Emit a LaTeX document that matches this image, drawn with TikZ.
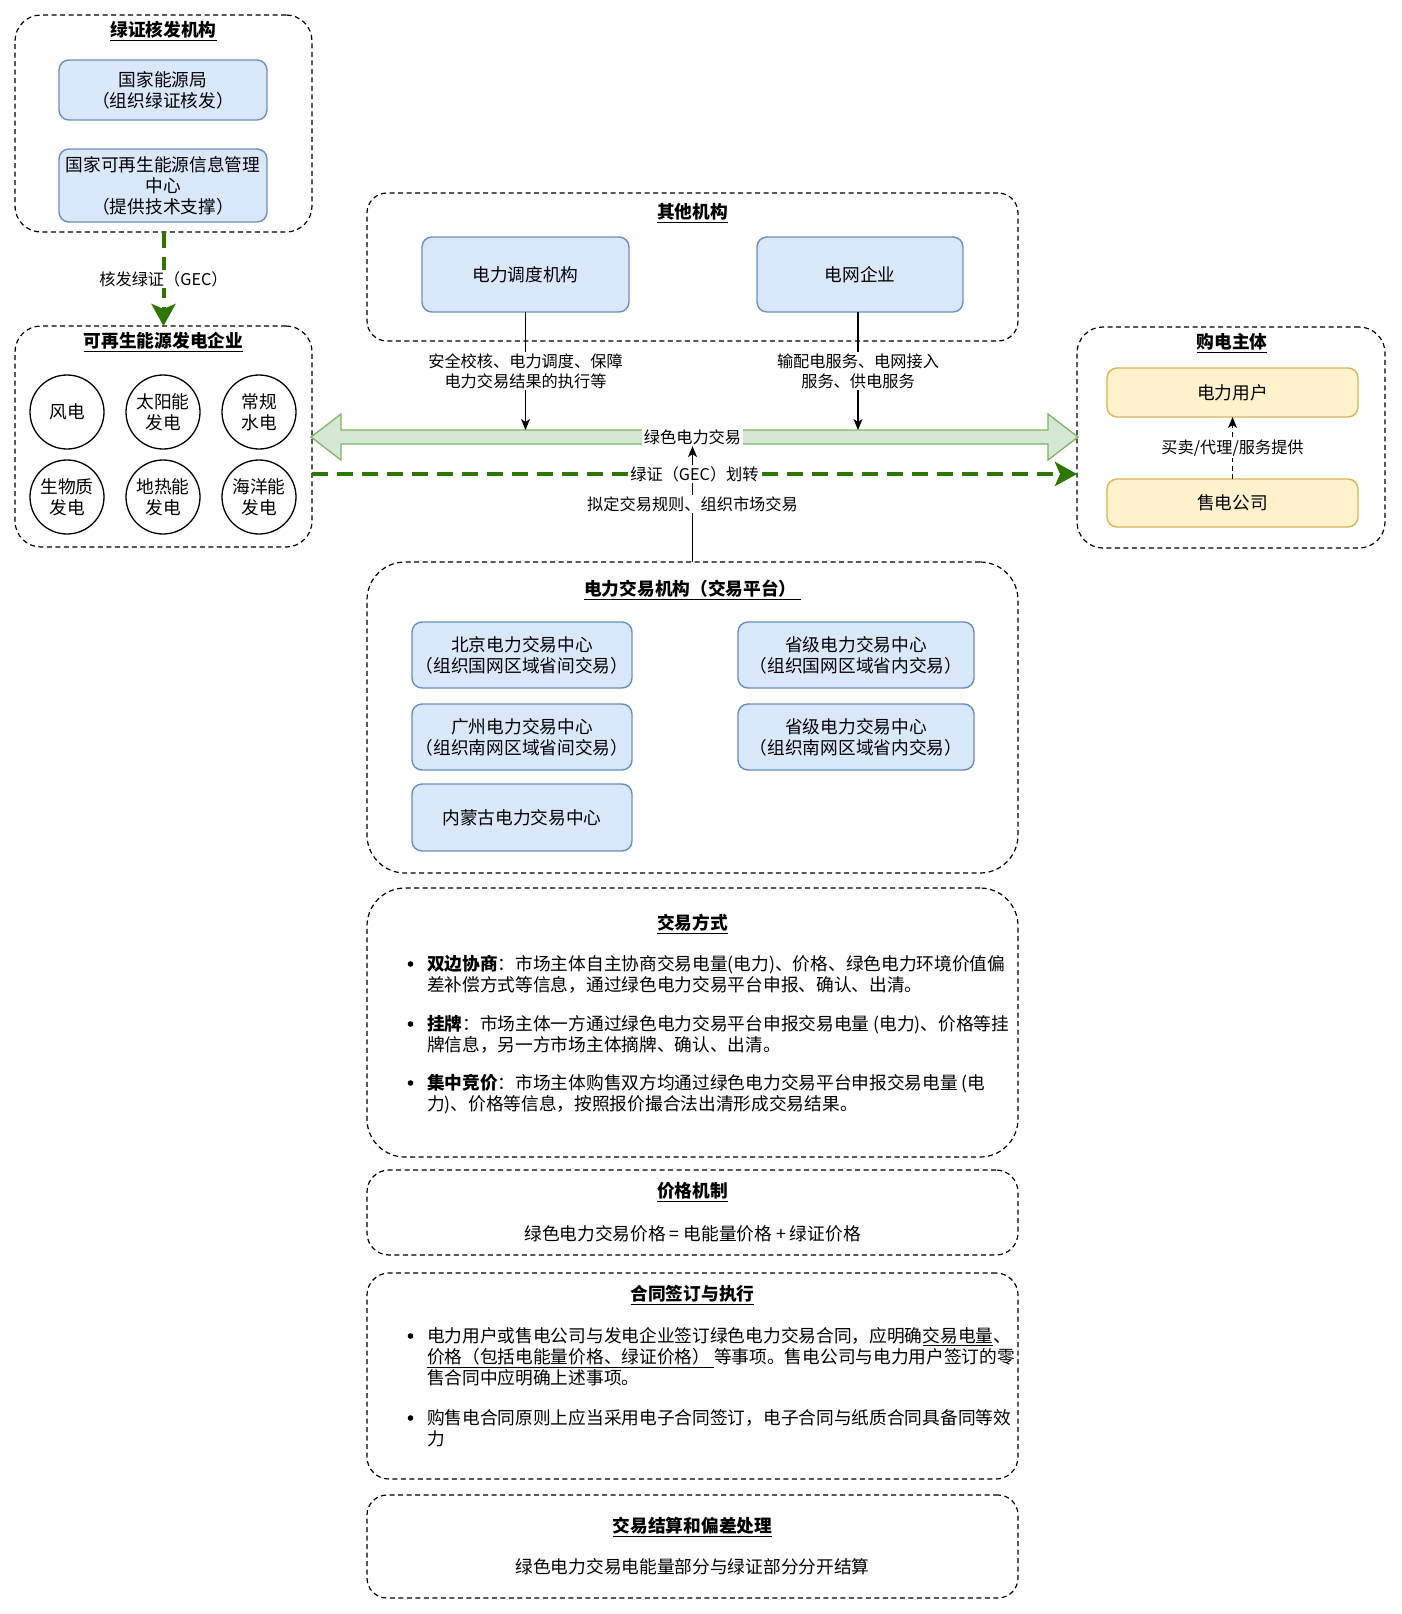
\documentclass[tikz,border=0pt]{standalone}
\usepackage{fontspec}
\setmainfont{Noto Sans CJK SC}
\usetikzlibrary{arrows.meta}
\definecolor{bfill}{HTML}{DAE8FC}
\definecolor{bdraw}{HTML}{6C8EBF}
\definecolor{yfill}{HTML}{FFF2CC}
\definecolor{ydraw}{HTML}{D6B656}
\definecolor{gfill}{HTML}{D5E8D4}
\definecolor{gdraw}{HTML}{82B366}
\definecolor{dgreen}{HTML}{2D7600}
\newcommand\myfs{\fontsize{17.7}{21}\selectfont}
\newcommand\mylfs{\fontsize{16.2}{20}\selectfont}
\begin{document}
\begin{tikzpicture}[x=1pt,y=-1pt,
  every node/.style={font=\myfs, inner sep=0pt, outer sep=0pt},
  cont/.style={draw, line width=1.2pt, dash pattern=on 5pt off 3.5pt},
  bbox/.style={draw=bdraw, fill=bfill, line width=1.4pt, rounded corners=10pt, align=center},
  ybox/.style={draw=ydraw, fill=yfill, line width=1.4pt, rounded corners=10pt, align=center},
  circ/.style={draw, circle, line width=1.3pt, minimum size=74pt, align=center},
  ttl/.style={font=\myfs\bfseries},
  lbl/.style={fill=white, text=black, inner sep=1.5pt, align=center, font=\mylfs},
  para/.style={anchor=west, align=left},
  gdash/.style={dgreen, line width=4pt, dash pattern=on 16pt off 9pt, -{Stealth[length=22pt,width=24pt,inset=5pt]}},
  arr/.style={line width=1.3pt, -{Stealth[length=11pt,width=9pt,inset=3pt]}},
]
\useasboundingbox (0,0) rectangle (1402,1614);
\fill[white] (0,0) rectangle (1402,1614);

% containers
\node[cont, rounded corners=26pt, minimum width=297pt, minimum height=217pt] (cert) at (163.5,123.5) {};
\node[cont, rounded corners=26pt, minimum width=297pt, minimum height=221pt] (gen) at (163.5,436.5) {};
\node[cont, rounded corners=20pt, minimum width=651pt, minimum height=148pt] (other) at (692.5,267) {};
\node[cont, rounded corners=26pt, minimum width=308pt, minimum height=221pt] (buyer) at (1231,437.5) {};
\node[cont, rounded corners=38pt, minimum width=651pt, minimum height=311pt] (trade) at (692.5,717.5) {};
\node[cont, rounded corners=38pt, minimum width=651pt, minimum height=269pt] (mode) at (692.5,1022.5) {};
\node[cont, rounded corners=22pt, minimum width=651pt, minimum height=85pt] (price) at (692.5,1212.5) {};
\node[cont, rounded corners=22pt, minimum width=651pt, minimum height=206pt] (contract) at (692.5,1376) {};
\node[cont, rounded corners=20pt, minimum width=651pt, minimum height=103pt] (settle) at (692.5,1546.5) {};

% titles
\node[ttl] (t1) at (163.5,31) {\underline{绿证核发机构}};
\node[ttl] (t2) at (163.5,342) {\underline{可再生能源发电企业}};
\node[ttl] (t3) at (692.5,213) {\underline{其他机构}};
\node[ttl] (t4) at (1232,343) {\underline{购电主体}};
\node[ttl] (t5) at (692.5,590) {\underline{电力交易机构（交易平台）\ }};
\node[ttl] (t6) at (692.5,924) {\underline{交易方式}};
\node[ttl] (t7) at (692.5,1192) {\underline{价格机制}};
\node[ttl] (t8) at (692.5,1295) {\underline{合同签订与执行}};
\node[ttl] (t9) at (692.5,1527) {\underline{交易结算和偏差处理}};

% certification bodies
\node[bbox, minimum width=208pt, minimum height=60pt] (nea) at (163,90) {国家能源局\\（组织绿证核发）};
\node[bbox, minimum width=208pt, minimum height=73pt] (rec) at (163,185.5) {国家可再生能源信息管理\\中心\\（提供技术支撑）};

% generation
\node[circ] (c1) at (67,412) {风电};
\node[circ] (c2) at (163,412) {太阳能\\发电};
\node[circ] (c3) at (259,412) {常规\\水电};
\node[circ] (c4) at (67,497) {生物质\\发电};
\node[circ] (c5) at (163,497) {地热能\\发电};
\node[circ] (c6) at (259,497) {海洋能\\发电};

% other institutions
\node[bbox, minimum width=207pt, minimum height=75pt] (dispatch) at (525.5,274.5) {电力调度机构};
\node[bbox, minimum width=206pt, minimum height=75pt] (grid) at (860,274.5) {电网企业};

% buyers
\node[ybox, minimum width=251pt, minimum height=49pt] (user) at (1232.5,392.5) {电力用户};
\node[ybox, minimum width=251pt, minimum height=48pt] (sale) at (1232.5,503) {售电公司};

% trading centres
\node[bbox, minimum width=220pt, minimum height=66pt] (bj) at (522,655) {北京电力交易中心\\（组织国网区域省间交易）};
\node[bbox, minimum width=220pt, minimum height=66pt] (gz) at (522,737) {广州电力交易中心\\（组织南网区域省间交易）};
\node[bbox, minimum width=220pt, minimum height=67pt] (nm) at (522,817.5) {内蒙古电力交易中心};
\node[bbox, minimum width=236pt, minimum height=66pt] (p1) at (856,655) {省级电力交易中心\\（组织国网区域省内交易）};
\node[bbox, minimum width=236pt, minimum height=66pt] (p2) at (856,737) {省级电力交易中心\\（组织南网区域省内交易）};

% big green double arrow
\draw[gdraw, fill=gfill, line width=1.3pt] (311,437) -- ++(30,-23) -- ++(0,16) -- (1048,430) -- ++(0,-16) -- (1078,437) -- ++(-30,23) -- ++(0,-16) -- (341,444) -- ++(0,16) -- cycle;
\node[lbl] (gtl) at (692.5,437) {绿色电力交易};
\coordinate (ga1) at (525.5,430);
\coordinate (ga2) at (858,430);

% connectors
\draw[arr] (dispatch.south) -- node[lbl]{安全校核、电力调度、保障\\电力交易结果的执行等} (ga1);
\draw[arr] (grid.south -| ga2) -- node[lbl]{输配电服务、电网接入\\服务、供电服务} (ga2);
\draw[arr] (trade.north) -- node[lbl, pos=0.5]{拟定交易规则、组织市场交易} (gtl.south);
\draw[gdash] (gen.east |- 0,474) -- node[lbl]{绿证（GEC）划转} (buyer.west |- 0,474);
\draw[gdash] (cert.south) -- node[lbl]{核发绿证（GEC）} (gen.north);
\draw[arr, dash pattern=on 5pt off 3.5pt] (sale.north) -- node[lbl]{买卖/代理/服务提供} (user.south);

% trading modes
\fill (410.5,964) circle (2.8pt);
\node[para] (m1) at (427,974.5) {\textbf{双边协商}：市场主体自主协商交易电量(电力)、价格、绿色电力环境价值偏\\差补偿方式等信息，通过绿色电力交易平台申报、确认、出清。};
\fill (410.5,1024) circle (2.8pt);
\node[para] (m2) at (427,1034.5) {\textbf{挂牌}：市场主体一方通过绿色电力交易平台申报交易电量 (电力)、价格等挂\\牌信息，另一方市场主体摘牌、确认、出清。};
\fill (410.5,1083) circle (2.8pt);
\node[para] (m3) at (427,1094) {\textbf{集中竞价}：市场主体购售双方均通过绿色电力交易平台申报交易电量 (电\\力)、价格等信息，按照报价撮合法出清形成交易结果。};

% price
\node (pr) at (692.5,1234) {绿色电力交易价格 = 电能量价格 + 绿证价格};

% contract
\fill (410.5,1336) circle (2.8pt);
\node[para] (k1) at (427,1357) {电力用户或售电公司与发电企业签订绿色电力交易合同，应明确\underline{交易电量}、\\\underline{价格（包括电能量价格、绿证价格）\ }等事项。售电公司与电力用户签订的零\\售合同中应明确上述事项。};
\fill (410.5,1418) circle (2.8pt);
\node[para] (k2) at (427,1428.5) {购售电合同原则上应当采用电子合同签订，电子合同与纸质合同具备同等效\\力};

% settlement
\node (st) at (692.5,1567) {绿色电力交易电能量部分与绿证部分分开结算};
\end{tikzpicture}
\end{document}
